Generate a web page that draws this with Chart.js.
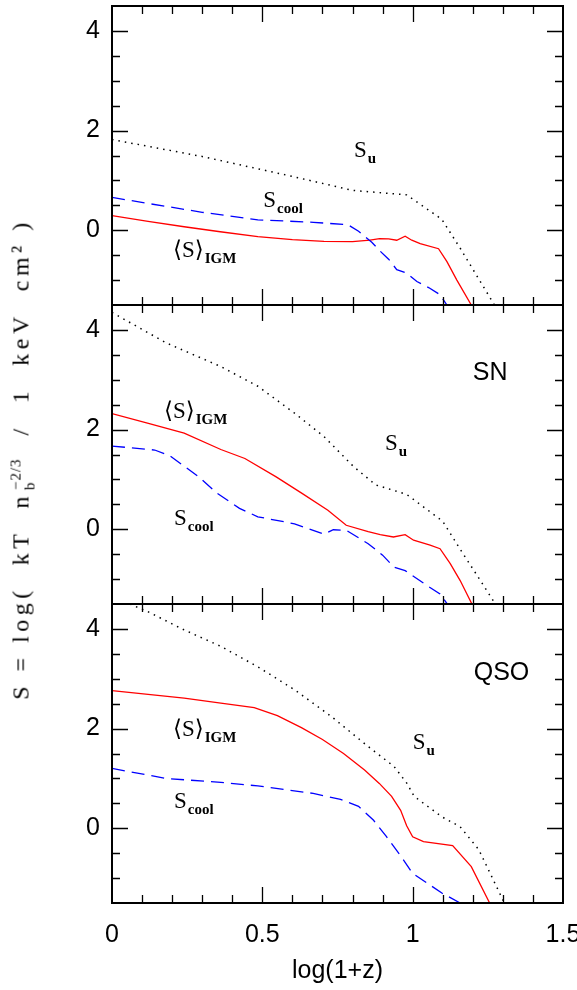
<!DOCTYPE html>
<html>
<head>
<meta charset="utf-8">
<script src="https://cdn.jsdelivr.net/npm/chart.js@4"></script>
<style>
  html, body { margin: 0; padding: 0; background: #fff; }
  #wrap { position: relative; width: 577px; height: 990px; overflow: hidden; }
  canvas { position: absolute; left: 0; }
  #ytitle {
    position: absolute; left: 22px; top: 459px;
    transform: translate(-50%, -50%) rotate(-90deg);
    font-family: "Liberation Serif", "DejaVu Serif", serif;
    font-size: 24px; letter-spacing: 4.5px; white-space: nowrap; color: #000;
  }
  #ytitle .ss {
    display: inline-flex; flex-direction: column;
    font-size: 15px; line-height: 14px; vertical-align: 8px; margin: 0 2px; letter-spacing: 1px;
  }
</style>
</head>
<body>
<div id="wrap">
  <canvas id="pNone" width="577" height="319" style="top:-4px"></canvas>
  <canvas id="pSn" width="577" height="319" style="top:295px"></canvas>
  <canvas id="pQso" width="577" height="396" style="top:594px"></canvas>
  <div id="ytitle">S = log(&nbsp; kT&nbsp; n<span class="ss"><span>−2/3</span><span>b</span></span>&nbsp; /&nbsp; 1&nbsp; keV&nbsp; cm² )</div>
</div>
<script>
// tick labels
const xTickVals = [0, 0.5, 1, 1.5];
const yTickVals = [0, 2, 4];

// top panel (no feedback)
const suNoneX = [0, 0.3, 0.6, 0.8, 0.98, 1.097, 1.16, 1.22, 1.272];
const suNoneY = [1.82, 1.48, 1.08, 0.80, 0.71, 0.22, -0.38, -0.98, -1.5];
const igmNoneX = [0, 0.12, 0.24, 0.36, 0.485, 0.6, 0.705, 0.8, 0.858, 0.89, 0.92, 0.947, 0.975, 0.997, 1.025, 1.086, 1.114, 1.147, 1.195];
const igmNoneY = [0.295, 0.18, 0.07, -0.03, -0.13, -0.19, -0.225, -0.23, -0.20, -0.17, -0.175, -0.20, -0.12, -0.20, -0.27, -0.37, -0.63, -1.0, -1.5];
const coolNoneX = [0, 0.118, 0.30, 0.485, 0.67, 0.785, 0.82, 0.864, 0.892, 0.92, 0.947, 0.98, 1.014, 1.053, 1.09, 1.114];
const coolNoneY = [0.66, 0.54, 0.36, 0.21, 0.16, 0.11, -0.02, -0.24, -0.42, -0.58, -0.79, -0.86, -1.03, -1.15, -1.29, -1.5];

// middle panel (SN)
const suSnX = [0, 0.18, 0.36, 0.485, 0.607, 0.705, 0.803, 0.877, 0.98, 1.10, 1.16, 1.22, 1.275];
const suSnY = [4.35, 3.74, 3.27, 2.87, 2.33, 1.86, 1.26, 0.89, 0.70, 0.16, -0.42, -0.98, -1.5];
const igmSnX = [0, 0.118, 0.24, 0.362, 0.442, 0.546, 0.632, 0.718, 0.779, 0.852, 0.892, 0.936, 0.975, 1.003, 1.058, 1.091, 1.125, 1.158, 1.197];
const igmSnY = [2.32, 2.13, 1.93, 1.60, 1.42, 1.05, 0.72, 0.38, 0.08, -0.05, -0.11, -0.155, -0.11, -0.22, -0.32, -0.39, -0.69, -1.03, -1.5];
const coolSnX = [0, 0.142, 0.191, 0.289, 0.35, 0.424, 0.485, 0.607, 0.705, 0.736, 0.779, 0.852, 0.90, 0.938, 0.975, 1.048, 1.091, 1.115];
const coolSnY = [1.67, 1.59, 1.48, 1.05, 0.72, 0.42, 0.25, 0.11, -0.10, -0.01, -0.02, -0.29, -0.52, -0.76, -0.83, -1.13, -1.30, -1.5];

// bottom panel (QSO)
const suQsoX = [0, 0.118, 0.24, 0.362, 0.485, 0.607, 0.73, 0.852, 0.938, 0.981, 1.005, 1.097, 1.158, 1.22, 1.305];
const suQsoY = [4.65, 4.35, 3.98, 3.65, 3.24, 2.78, 2.24, 1.64, 1.24, 0.90, 0.64, 0.23, 0.03, -0.43, -1.5];
const igmQsoX = [0, 0.24, 0.362, 0.473, 0.55, 0.63, 0.70, 0.77, 0.84, 0.889, 0.93, 0.96, 0.98, 1.0, 1.036, 1.133, 1.195, 1.256];
const igmQsoY = [2.76, 2.61, 2.51, 2.42, 2.26, 2.02, 1.78, 1.50, 1.17, 0.90, 0.64, 0.36, 0.05, -0.17, -0.27, -0.35, -0.77, -1.5];
const coolQsoX = [0, 0.179, 0.362, 0.485, 0.669, 0.76, 0.82, 0.87, 0.913, 0.962, 0.999, 1.097, 1.158];
const coolQsoY = [1.20, 1.0, 0.92, 0.85, 0.70, 0.58, 0.44, 0.16, -0.17, -0.57, -0.90, -1.30, -1.5];

const SERIF = '"Liberation Serif", "DejaVu Serif", "DejaVu Sans", serif';
const SANS = '"Liberation Sans", Arial, sans-serif';

const pts = (xs, ys) => xs.map((v, i) => ({x: v, y: ys[i]}));

// frame + inward ticks on all four sides
const frameTicks = {
  id: 'frameTicks',
  afterDatasetsDraw(chart) {
    const {ctx, chartArea: a, scales: {x, y}} = chart;
    ctx.save();
    ctx.strokeStyle = '#000';
    ctx.lineWidth = 1.3;
    ctx.beginPath();
    for (let i = 1; i < 15; i++) {
      const px = Math.round(x.getPixelForValue(i / 10)) + 0.5;
      const len = i % 5 === 0 ? 16 : 8;
      ctx.moveTo(px, a.bottom); ctx.lineTo(px, a.bottom - len);
      ctx.moveTo(px, a.top); ctx.lineTo(px, a.top + len);
    }
    for (let i = -2; i <= 8; i++) {
      const py = Math.round(y.getPixelForValue(i / 2)) + 0.5;
      const len = i % 4 === 0 ? 16 : 8;
      ctx.moveTo(a.left, py); ctx.lineTo(a.left + len, py);
      ctx.moveTo(a.right, py); ctx.lineTo(a.right - len, py);
    }
    ctx.stroke();
    ctx.lineWidth = 2;
    ctx.strokeRect(a.left, a.top, a.right - a.left, a.bottom - a.top);
    ctx.restore();
  }
};

// curve names and panel tags, placed in data coordinates
const panelLabels = {
  id: 'panelLabels',
  afterDraw(chart, args, opts) {
    const {ctx, scales: {x, y}} = chart;
    ctx.save();
    ctx.fillStyle = '#000';
    ctx.textBaseline = 'alphabetic';
    ctx.textAlign = 'left';
    (opts.items || []).forEach(it => {
      const px = x.getPixelForValue(it.x);
      const py = y.getPixelForValue(it.y);
      ctx.font = it.sans ? '25px ' + SANS : '23px ' + SERIF;
      ctx.fillText(it.text, px, py);
      if (it.sub) {
        const w = ctx.measureText(it.text).width;
        ctx.font = 'bold 15px ' + SERIF;
        ctx.fillText(it.sub, px + w + 1, py + 6);
      }
    });
    ctx.restore();
  }
};

function makePanel(id, su, igm, cool, labels, showX) {
  return new Chart(document.getElementById(id), {
    type: 'line',
    data: {
      datasets: [
        {data: su, borderColor: '#000', borderWidth: 1.5, borderDash: [1.5, 5], clip: 0},
        {data: cool, borderColor: '#0000ff', borderWidth: 1.3, borderDash: [13, 7], clip: 0},
        {data: igm, borderColor: '#ff0000', borderWidth: 1.3, clip: 0}
      ]
    },
    options: {
      responsive: false,
      animation: false,
      layout: {padding: {top: 10, right: 14, bottom: showX ? 0 : 10, left: 0}},
      elements: {point: {radius: 0}, line: {tension: 0}},
      plugins: {
        legend: {display: false},
        tooltip: {enabled: false},
        panelLabels: {items: labels}
      },
      scales: {
        x: {
          type: 'linear', min: 0, max: 1.5, display: showX,
          grid: {display: false, drawTicks: false},
          border: {display: false},
          afterBuildTicks: s => { s.ticks = xTickVals.map(v => ({value: v})); },
          afterFit: s => {
            if (showX) s.height = 87;
            s.paddingLeft = 0; s.paddingRight = 0;
          },
          ticks: {padding: 17, color: '#000', maxRotation: 0, font: {family: SANS, size: 25},
                  callback: v => String(v)},
          title: {display: true, text: 'log(1+z)', color: '#000',
                  font: {family: SANS, size: 25}, padding: {top: 0, bottom: 4}}
        },
        y: {
          type: 'linear', min: -1.5, max: 4.5,
          grid: {display: false, drawTicks: false},
          border: {display: false},
          afterBuildTicks: s => { s.ticks = yTickVals.map(v => ({value: v})); },
          afterFit: s => { s.width = 112; s.paddingTop = 0; s.paddingBottom = 0; },
          ticks: {padding: 12, color: '#000', font: {family: SANS, size: 25}}
        }
      }
    },
    plugins: [frameTicks, panelLabels]
  });
}

makePanel('pNone',
  pts(suNoneX, suNoneY), pts(igmNoneX, igmNoneY), pts(coolNoneX, coolNoneY),
  [
    {text: 'S', sub: 'u', x: 0.805, y: 1.47},
    {text: 'S', sub: 'cool', x: 0.503, y: 0.47},
    {text: '⟨S⟩', sub: 'IGM', x: 0.203, y: -0.54}
  ], false);

makePanel('pSn',
  pts(suSnX, suSnY), pts(igmSnX, igmSnY), pts(coolSnX, coolSnY),
  [
    {text: 'SN', sans: true, x: 1.2, y: 3.0},
    {text: 'S', sub: 'u', x: 0.908, y: 1.59},
    {text: '⟨S⟩', sub: 'IGM', x: 0.173, y: 2.23},
    {text: 'S', sub: 'cool', x: 0.206, y: 0.085}
  ], false);

makePanel('pQso',
  pts(suQsoX, suQsoY), pts(igmQsoX, igmQsoY), pts(coolQsoX, coolQsoY),
  [
    {text: 'QSO', sans: true, x: 1.203, y: 2.975},
    {text: 'S', sub: 'u', x: 1.0, y: 1.59},
    {text: '⟨S⟩', sub: 'IGM', x: 0.203, y: 1.85},
    {text: 'S', sub: 'cool', x: 0.206, y: 0.406}
  ], true);
</script>
</body>
</html>
